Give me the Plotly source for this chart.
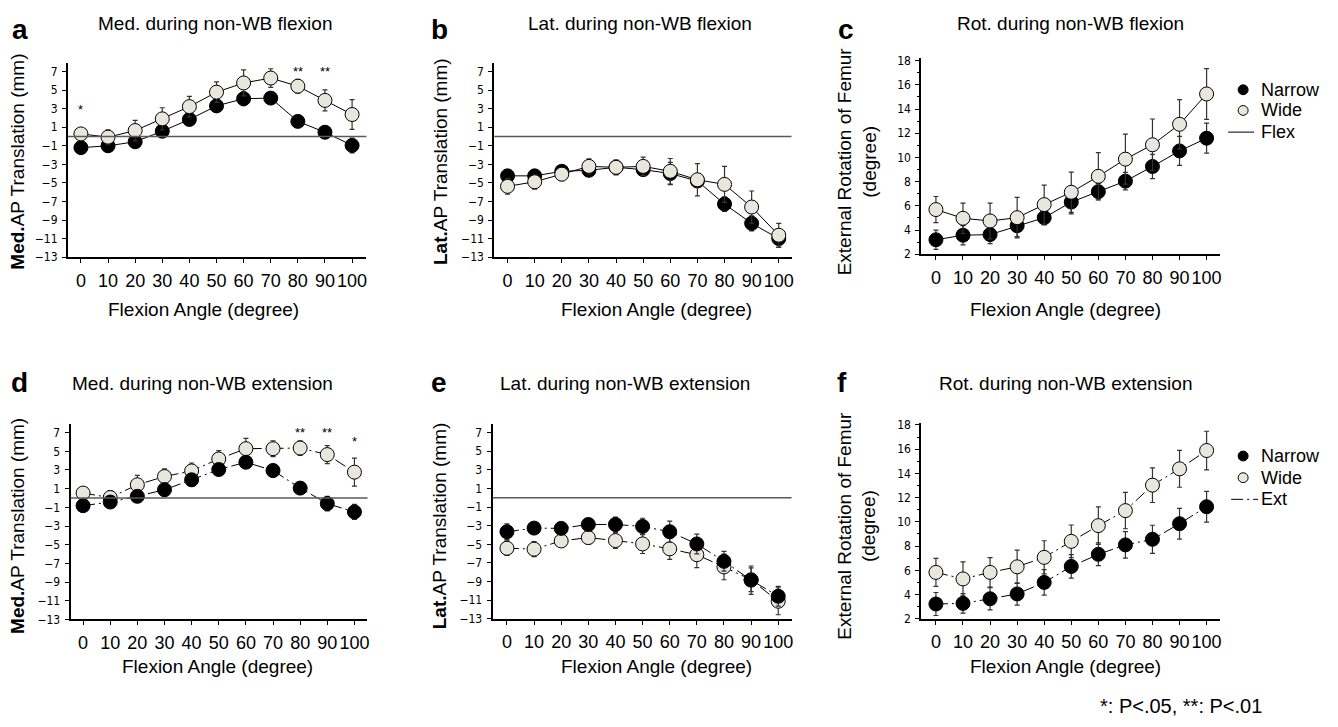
import plotly.graph_objects as go

angles = [0, 10, 20, 30, 40, 50, 60, 70, 80, 90, 100]

# a: medial AP translation, non-WB flexion (mm)
med_flex_narrow = [-1.2, -1.0, -0.57, 0.57, 1.84, 3.3, 4.07, 4.14, 1.63, 0.46, -0.96]
med_flex_narrow_err = [0.3, 0.64, 0.5, 0.64, 0.64, 0.67, 0.74, 0.46, 0.3, 0.67, 0.8]
med_flex_wide = [0.28, -0.07, 0.64, 1.9, 3.22, 4.78, 5.77, 6.3, 5.42, 3.89, 2.37]
med_flex_wide_err = [0.2, 0.8, 1.1, 1.2, 1.1, 1.1, 1.4, 1.0, 0.74, 1.13, 1.6]

# b: lateral AP translation, non-WB flexion (mm)
lat_flex_narrow = [-4.24, -4.24, -3.75, -3.64, -3.32, -3.57, -3.99, -4.8, -7.28, -9.36, -11.0]
lat_flex_narrow_err = [0.67, 0.3, 0.3, 0.5, 0.5, 0.6, 1.2, 0.5, 0.78, 0.81, 0.95]
lat_flex_wide = [-5.37, -4.88, -4.06, -3.22, -3.32, -3.22, -3.75, -4.66, -5.16, -7.6, -10.64]
lat_flex_wide_err = [0.85, 0.78, 0.7, 0.81, 0.81, 0.99, 1.38, 1.73, 1.94, 1.73, 1.27]

# c: external rotation of femur, non-WB flexion (degree)
rot_flex_narrow = [3.19, 3.57, 3.62, 4.35, 5.02, 6.31, 7.17, 8.04, 9.25, 10.54, 11.59]
rot_flex_narrow_err = [0.8, 0.8, 0.75, 0.9, 0.6, 0.97, 0.67, 0.73, 1.0, 1.2, 1.24]
rot_flex_wide = [5.69, 4.97, 4.75, 5.02, 6.1, 7.12, 8.44, 9.86, 11.05, 12.74, 15.25]
rot_flex_wide_err = [1.08, 1.26, 1.48, 1.67, 1.61, 1.67, 1.96, 2.07, 2.13, 2.04, 2.1]

# d: medial AP translation, non-WB extension (mm)
med_ext_narrow = [-0.82, -0.43, 0.18, 0.89, 1.95, 3.05, 3.83, 2.94, 1.06, -0.6, -1.49]
med_ext_narrow_err = [0.5, 0.4, 0.64, 0.7, 0.67, 0.64, 0.64, 0.7, 0.67, 0.78, 0.8]
med_ext_wide = [0.53, 0.05, 1.42, 2.3, 2.9, 4.18, 5.28, 5.28, 5.35, 4.65, 2.77]
med_ext_wide_err = [0.2, 0.74, 1.0, 0.82, 0.85, 0.89, 1.1, 0.85, 0.78, 0.96, 1.5]

# e: lateral AP translation, non-WB extension (mm)
lat_ext_narrow = [-3.65, -3.26, -3.29, -2.87, -2.87, -3.08, -3.65, -4.96, -6.83, -8.85, -10.58]
lat_ext_narrow_err = [0.85, 0.6, 0.64, 0.5, 0.78, 0.88, 1.13, 1.06, 1.06, 1.52, 1.06]
lat_ext_wide = [-5.42, -5.52, -4.64, -4.28, -4.6, -4.96, -5.49, -6.12, -7.43, -8.81, -11.12]
lat_ext_wide_err = [0.78, 0.81, 0.57, 0.67, 0.85, 1.03, 1.13, 1.38, 1.38, 1.27, 1.45]

# f: external rotation of femur, non-WB extension (degree)
rot_ext_narrow = [3.22, 3.27, 3.65, 4.05, 5.0, 6.32, 7.32, 8.1, 8.56, 9.85, 11.25]
rot_ext_narrow_err = [0.95, 0.8, 0.92, 0.92, 1.05, 0.97, 0.94, 1.1, 1.16, 1.27, 1.27]
rot_ext_wide = [5.83, 5.29, 5.83, 6.29, 7.07, 8.39, 9.69, 10.93, 13.03, 14.38, 15.89]
rot_ext_wide_err = [1.16, 1.4, 1.22, 1.38, 1.37, 1.35, 1.54, 1.5, 1.43, 1.52, 1.59]

# significance marks: (angle, height, text)
stars_a = [(0, 2.9, "*"), (80, 7.0, "**"), (90, 7.0, "**")]
stars_d = [(80, 7.0, "**"), (90, 7.0, "**"), (100, 6.1, "*")]

# the page body has an 8px margin, so the figure is a bit smaller than the window
OFF = 8
W, H = 1338 - 2 * OFF, 727 - 2 * OFF
FONT = "Liberation Sans, Arial, sans-serif"
NARROW_FONT = "DejaVu Sans Condensed, Liberation Sans Narrow, Liberation Sans"
WIDE_FILL = "#E9E7DC"
EXT_DASH = "12px,4px,2px,4px"

def px_x(v):
    return (v - OFF) / W

def px_y(v):
    return 1 - (v - OFF) / H

# panel geometry in window pixels: left, right, top, bottom
panels = [
    dict(letter="a", title="Med. during non-WB flexion", ytitle="<b>Med.</b>AP Translation (mm)",
         box=(68, 367, 60, 257), xr=[-4.8, 105.3], kind="ap", narrow=med_flex_narrow, nerr=med_flex_narrow_err,
         wide=med_flex_wide, werr=med_flex_wide_err, dash="solid", stars=stars_a),
    dict(letter="b", title="Lat. during non-WB flexion", ytitle="<b>Lat.</b>AP Translation (mm)",
         box=(495, 792.7, 60, 257), xr=[-4.9, 104.7], kind="ap", narrow=lat_flex_narrow, nerr=lat_flex_narrow_err,
         wide=lat_flex_wide, werr=lat_flex_wide_err, dash="solid", stars=[]),
    dict(letter="c", title="Rot. during non-WB flexion", ytitle="External Rotation of Femur<br>(degree)",
         box=(922.7, 1221.7, 55, 254), xr=[-5.4, 104.9], kind="rot", narrow=rot_flex_narrow, nerr=rot_flex_narrow_err,
         wide=rot_flex_wide, werr=rot_flex_wide_err, dash="solid", stars=[]),
    dict(letter="d", title="Med. during non-WB extension", ytitle="<b>Med.</b>AP Translation (mm)",
         box=(70.7, 368, 426.7, 625), xr=[-4.6, 104.8], kind="ap", narrow=med_ext_narrow, nerr=med_ext_narrow_err,
         wide=med_ext_wide, werr=med_ext_wide_err, dash=EXT_DASH, stars=stars_d),
    dict(letter="e", title="Lat. during non-WB extension", ytitle="<b>Lat.</b>AP Translation (mm)",
         box=(493.3, 792.7, 426.7, 624.3), xr=[-5.3, 104.9], kind="ap", narrow=lat_ext_narrow, nerr=lat_ext_narrow_err,
         wide=lat_ext_wide, werr=lat_ext_wide_err, dash=EXT_DASH, stars=[]),
    dict(letter="f", title="Rot. during non-WB extension", ytitle="External Rotation of Femur<br>(degree)",
         box=(922.7, 1221.7, 425, 624.3), xr=[-5.4, 104.9], kind="rot", narrow=rot_ext_narrow, nerr=rot_ext_narrow_err,
         wide=rot_ext_wide, werr=rot_ext_wide_err, dash=EXT_DASH, stars=[]),
]

letter_x = {"a": 20, "b": 440, "c": 847, "d": 20, "e": 440, "f": 843}
ytitle_x = {"a": 18, "b": 441, "c": 858, "d": 18, "e": 441, "f": 858}
title_cx = {"a": 215.5, "b": 641, "c": 1072, "d": 203, "e": 626, "f": 1067}
xtitle_cx = {"a": 204, "b": 657.5, "c": 1067.5, "d": 218, "e": 657.5, "f": 1067.5}

fig = go.Figure()
layout = dict(width=W, height=H, margin=dict(l=0, r=0, t=0, b=0),
              paper_bgcolor="white", plot_bgcolor="white",
              font=dict(family=FONT, color="black"), showlegend=False)
annotations = []
shapes = []

for i, p in enumerate(panels):
    n = i + 1
    xa = "x" if n == 1 else "x%d" % n
    ya = "y" if n == 1 else "y%d" % n
    left, right, top, bottom = p["box"]
    k = p["letter"]

    xaxis = dict(domain=[px_x(left), px_x(right)], range=p["xr"], anchor=ya,
                 tickvals=angles, ticks="outside", ticklen=4, tickwidth=1, tickcolor="black",
                 showline=True, linewidth=2, linecolor="black", showgrid=False, zeroline=False,
                 tickfont=dict(size=18, family=FONT), ticklabelstandoff=2)
    if p["kind"] == "ap":
        yaxis = dict(range=[-13, 7.9], tickvals=list(range(-13, 8, 2)))
    else:
        yaxis = dict(range=[2, 18.2], tickvals=list(range(2, 19, 2)),
                     minor=dict(dtick=1, ticks="outside", ticklen=2, tickcolor="black"))
    yaxis.update(domain=[px_y(bottom), px_y(top)], anchor=xa,
                 ticks="outside", ticklen=4, tickwidth=1, tickcolor="black",
                 showline=True, linewidth=2, linecolor="black", showgrid=False, zeroline=False,
                 tickfont=dict(size=12, family=NARROW_FONT), ticklabelstandoff=2)
    layout["xaxis" if n == 1 else "xaxis%d" % n] = xaxis
    layout["yaxis" if n == 1 else "yaxis%d" % n] = yaxis

    if p["kind"] == "ap":
        shapes.append(dict(type="line", xref=xa + " domain", x0=0, x1=1, yref=ya, y0=0, y1=0,
                           line=dict(color="#5a5a5a", width=1.5)))

    narrow = go.Scatter(x=angles, y=p["narrow"], mode="lines+markers", xaxis=xa, yaxis=ya,
                        line=dict(color="black", width=1, dash=p["dash"]),
                        marker=dict(size=14, color="black", line=dict(color="black", width=1)),
                        error_y=dict(type="data", array=p["nerr"], color="#333", thickness=1.2, width=2.5),
                        name="Narrow")
    wide = go.Scatter(x=angles, y=p["wide"], mode="lines+markers", xaxis=xa, yaxis=ya,
                      line=dict(color="black", width=1, dash=p["dash"]),
                      marker=dict(size=14, color=WIDE_FILL, line=dict(color="black", width=1)),
                      error_y=dict(type="data", array=p["werr"], color="#333", thickness=1.2, width=2.5),
                      name="Wide")
    if p["dash"] == "solid":
        fig.add_trace(narrow)
        fig.add_trace(wide)
    else:
        fig.add_trace(wide)
        fig.add_trace(narrow)

    for sx, sy, st in p["stars"]:
        annotations.append(dict(x=sx, y=sy, xref=xa, yref=ya, text=st, showarrow=False,
                                font=dict(size=13, family=FONT)))

    top_row = top < 100
    # panel letter: top row hangs from the top edge so it is not clipped
    if top_row:
        annotations.append(dict(x=px_x(letter_x[k]), y=1, xref="paper", yref="paper",
                                text="<b>%s</b>" % k, showarrow=False,
                                font=dict(size=28, family=FONT), xanchor="center", yanchor="top"))
    else:
        annotations.append(dict(x=px_x(letter_x[k]), y=px_y(384), xref="paper", yref="paper",
                                text="<b>%s</b>" % k, showarrow=False,
                                font=dict(size=28, family=FONT), xanchor="center", yanchor="middle"))
    annotations.append(dict(x=px_x(title_cx[k]), y=px_y(20 if top_row else 385),
                            xref="paper", yref="paper", text=p["title"], showarrow=False,
                            font=dict(size=19, family=FONT), xanchor="center", yanchor="middle"))
    annotations.append(dict(x=px_x(xtitle_cx[k]), y=px_y(310 if top_row else 673),
                            xref="paper", yref="paper", text="Flexion Angle (degree)", showarrow=False,
                            font=dict(size=19, family=FONT), xanchor="center", yanchor="middle"))
    annotations.append(dict(x=px_x(ytitle_x[k]), y=px_y(160 if top_row else 530),
                            xref="paper", yref="paper", text=p["ytitle"], showarrow=False, textangle=-90,
                            font=dict(size=19, family=FONT), xanchor="center", yanchor="middle"))

# legend keys for panels c and f, drawn as marker/line keys next to text
legend_rows = [
    (87, 108, 130, (1230, 1256), "Flex", "solid"),
    (459, 481, 503, (1233, 1260), "Ext", EXT_DASH),
]
for y_n, y_w, y_l, (lx0, lx1), line_name, dash in legend_rows:
    for cy, fill in [(y_n, "black"), (y_w, WIDE_FILL)]:
        shapes.append(dict(type="circle", xref="paper", yref="paper",
                           x0=px_x(1245 - 5), x1=px_x(1245 + 5), y0=px_y(cy + 5), y1=px_y(cy - 5),
                           fillcolor=fill, line=dict(color="black", width=1)))
    shapes.append(dict(type="line", xref="paper", yref="paper",
                       x0=px_x(lx0), x1=px_x(lx1), y0=px_y(y_l), y1=px_y(y_l),
                       line=dict(color="black", width=1, dash=dash)))
    for cy, label in [(y_n, "Narrow"), (y_w, "Wide"), (y_l, line_name)]:
        annotations.append(dict(x=px_x(1261), y=px_y(cy), xref="paper", yref="paper", text=label,
                                showarrow=False, font=dict(size=18, family=FONT),
                                xanchor="left", yanchor="middle"))

annotations.append(dict(x=px_x(1183), y=px_y(713), xref="paper", yref="paper",
                        text="*: P<.05, **: P<.01", showarrow=False,
                        font=dict(size=20, family=FONT), xanchor="center", yanchor="middle"))

layout["annotations"] = annotations
layout["shapes"] = shapes
fig.update_layout(**layout)

fig.write_html("out.html")
